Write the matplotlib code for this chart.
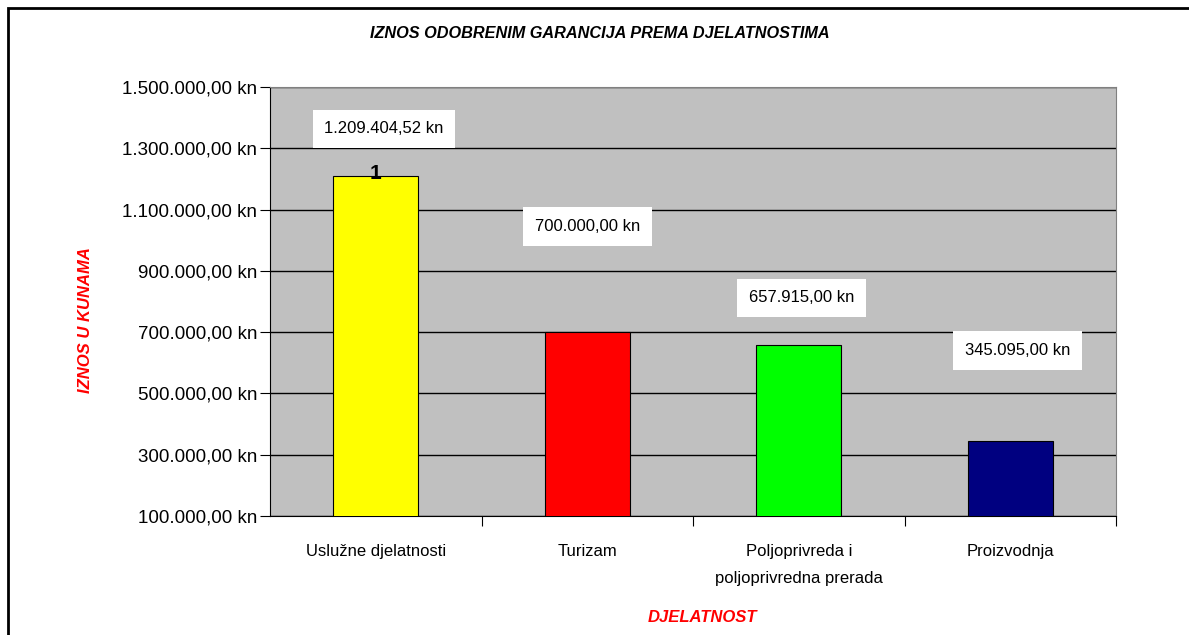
import matplotlib.pyplot as plt
from matplotlib.ticker import FuncFormatter
from matplotlib.patches import Rectangle

# data
categories = ['Uslužne djelatnosti', 'Turizam', 'Poljoprivreda i\npoljoprivredna prerada', 'Proizvodnja']
values = [1209404.52, 700000.00, 657915.00, 345095.00]
bar_colors = ['#FFFF00', '#FF0000', '#00FF00', '#000080']
yticks = [100000, 300000, 500000, 700000, 900000, 1100000, 1300000, 1500000]

# where Excel put the label boxes (offset from bar top, in points)
label_offsets = [(6, 34), (0, 76), (2, 34), (5, 65)]

plt.rcParams['font.family'] = ['Liberation Sans', 'DejaVu Sans']


def kn(v, pos=None):
    s = f'{v:,.2f}'  # 1,234,567.89
    s = s.replace(',', 'X').replace('.', ',').replace('X', '.')
    return s + ' kn'


fig = plt.figure(figsize=(11.89, 6.35), dpi=100)
ax = fig.add_axes([270 / 1189, 1 - 516 / 635, 846 / 1189, 429 / 635])

# outer chart border (only left and top visible in the crop)
fig.patches.append(Rectangle((8 / 1189, -0.1), 1.2, 1 - 8 / 635 + 0.1, transform=fig.transFigure,
                             fill=False, edgecolor='black', linewidth=2))

ax.set_facecolor('#C0C0C0')
x = range(len(categories))
ax.bar(x, values, width=0.4, color=bar_colors, edgecolor='black', linewidth=0.8, zorder=3)

ax.set_ylim(100000, 1500000)
ax.set_xlim(-0.5, len(categories) - 0.5)
ax.set_yticks(yticks)
ax.yaxis.set_major_formatter(FuncFormatter(kn))
ax.yaxis.grid(True, color='black', linewidth=1)
ax.set_axisbelow(True)

ax.set_xticks([i + 0.5 for i in range(len(categories) - 1)] + [len(categories) - 0.5])
ax.set_xticklabels([])
ax.set_xticks(list(x), minor=True)
ax.set_xticklabels(categories, minor=True, fontsize=12, linespacing=2.0)
ax.tick_params(axis='x', which='minor', length=0, pad=20)
ax.tick_params(axis='x', which='major', length=7, color='black')
ax.tick_params(axis='y', length=7, labelsize=13.5, pad=2)

for side in ['top', 'right']:
    ax.spines[side].set_color('#808080')
ax.spines['left'].set_color('black')
ax.spines['bottom'].set_color('black')

for i, v in enumerate(values):
    ax.annotate(kn(v), (i, v), xytext=label_offsets[i], textcoords='offset points',
                ha='center', va='center', fontsize=12, zorder=5,
                bbox=dict(boxstyle='square,pad=0.7', facecolor='white', edgecolor='none'))

ax.annotate('1', (0, values[0]), xytext=(0, 2), textcoords='offset points',
            ha='center', va='center', fontsize=15, fontweight='bold', zorder=5)

fig.text(600 / 1189, 1 - 34 / 635, 'IZNOS ODOBRENIM GARANCIJA PREMA DJELATNOSTIMA',
         ha='center', va='center', fontsize=11.7, fontweight='bold', style='italic')
fig.text(86 / 1189, 1 - 320 / 635, 'IZNOS U KUNAMA', rotation=90, ha='center', va='center',
         fontsize=12, fontweight='bold', style='italic', color='red')
fig.text(702 / 1189, 1 - 617 / 635, 'DJELATNOST', ha='center', va='center',
         fontsize=12, fontweight='bold', style='italic', color='red')

fig.savefig('out.png', dpi=100)
